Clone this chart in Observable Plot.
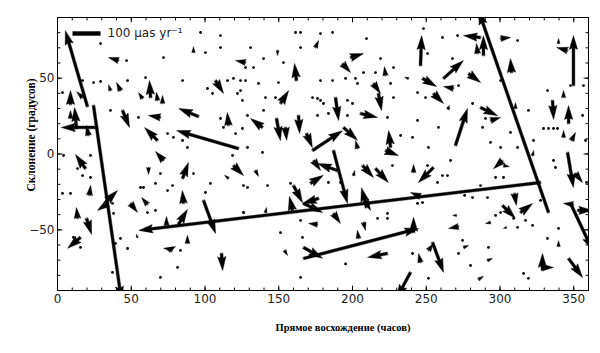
<!DOCTYPE html>
<html><head><meta charset="utf-8">
<script src="https://cdn.jsdelivr.net/npm/d3@7"></script>
<script src="https://cdn.jsdelivr.net/npm/@observablehq/plot@0.6"></script>
<style>body{margin:0;background:#fff} svg{display:block}</style>
</head><body><div id="chart"></div>
<script>
// Proper-motion vectors: position (RA, Dec in degrees) and proper motion (µas/yr)
const ra = [20.3,24.4,27.1,122.7,327.5,332.9,347.8,166.8,269.8,349.8,246.1,261.7,187.1,239.3,345.8,352.6,
63.1,8.8,12.9,21.0,44.1,67.8,69.8,95.6,41.4,42.7,17.0,57.6,71.2,92.2,8.8,67.8,35.9,
127.5,162.0,107.1,151.2,193.2,198.7,222.4,214.2,217.6,188.5,205.4,225.8,139.0,115.9,148.5,154.6,163.4,168.8,172.9,193.9,203.4,174.9,149.2,
286.8,284.8,288.8,300.4,345.8,339.7,307.8,247.5,268.5,278.7,254.9,286.8,293.6,310.5,335.6,346.5,348.5,343.1,343.1,238.0,264.4,
19.0,21.7,13.6,19.7,32.5,33.9,15.6,49.5,61.7,61.0,71.9,84.8,85.4,82.0,73.9,88.1,78.0,75.3,54.2,
119.3,115.9,134.2,99.0,160.0,159.3,177.0,166.8,171.5,173.6,189.8,206.8,215.6,209.5,208.8,222.4,200.7,176.3,187.1,207.5,204.1,166.8,153.9,223.7,111.2,141.0,126.1,
241.4,254.9,301.7,302.4,309.8,301.7,313.9,349.8,351.2,241.4,271.9,270.5,293.6,304.4,339.7,254.3,251.5,246.1,275.3,291.5,285.4,328.8,329.5,346.5,322.1,246.1];
const dec = [31.3,32.0,17.5,3.6,-18.8,-38.6,-32.6,-68.9,5.6,45.1,58.3,49.8,2.3,-78.1,1.0,-37.2,
37.2,32.6,16.8,12.2,28.7,8.9,24.1,24.7,61.6,41.8,37.2,36.6,33.3,66.9,23.4,35.3,41.8,
60.3,48.4,48.4,33.3,59.6,63.6,51.7,46.5,39.9,37.2,26.7,4.3,17.5,18.8,23.4,17.5,25.4,13.5,2.3,17.5,3.6,70.2,68.2,
76.8,66.2,64.9,76.1,68.2,72.8,53.7,49.8,43.2,53.0,39.9,30.6,22.1,30.0,35.3,20.1,8.9,10.9,37.2,49.8,30.0,
-9.6,-27.3,-42.5,-42.5,-32.0,-32.6,-55.0,-32.6,-8.9,-33.3,-4.3,-16.1,-32.6,-46.5,-47.1,-59.0,-62.9,-63.6,-55.0,
-7.6,-16.1,-10.9,-30.6,-20.8,-37.2,-29.3,-32.6,-19.4,-4.3,-10.9,-7.6,-9.6,-35.3,-30.6,2.3,-14.2,-46.5,-39.2,-45.1,-55.7,-61.6,-63.6,-65.6,-65.6,-38.6,-38.6,
-12.2,-8.9,-4.3,-7.6,-26.0,-33.9,-38.6,-33.3,-12.9,-51.7,-47.8,-40.5,-45.1,-48.4,-61.0,-58.3,-63.6,-71.5,-61.6,-70.2,-82.7,-76.8,-74.8,-68.9,-1.0,-28.0];
const pmRA = [-79,100,-129,-221,-1435,-250,79,411,43,0,4,71,50,-50,21,54,
-4,0,-7,-7,25,-46,-43,-71,-36,-14,-21,-14,0,0,0,-4,-7,
-36,-7,29,29,29,46,-4,25,11,11,61,-7,-43,-4,14,4,4,21,107,50,-7,11,0,
-61,-4,0,36,-39,0,-4,50,-36,43,36,61,36,0,4,0,14,0,0,-14,7,
-36,4,-4,18,43,-36,-46,25,0,-21,-29,21,-4,32,0,0,-32,25,-4,
36,-14,11,43,32,-11,-57,68,46,25,-71,39,46,-18,18,46,4,-32,25,7,-4,68,11,-71,4,4,4,
0,-54,-32,21,7,46,43,-36,25,0,-36,-14,-18,-11,0,39,18,-7,18,18,18,0,36,50,4,-36];
const pmDec = [271,-696,0,64,-171,721,-168,107,132,179,107,64,-189,-93,-125,0,
61,50,75,36,-61,46,7,29,11,29,21,21,29,21,29,29,21,
7,61,-46,46,-32,14,32,-36,-61,-82,-14,61,32,46,-79,-46,-64,-50,71,-46,29,25,-18,
7,36,71,4,11,18,50,-29,7,-32,-36,-29,11,21,-68,64,29,25,25,4,11,
50,36,39,-57,43,-25,-39,-32,-25,25,32,57,46,54,32,29,4,14,11,
-36,11,-21,-118,-61,50,-18,-32,29,-36,25,-43,-50,71,-36,-18,18,4,-36,-29,29,-39,-18,-14,-61,18,7,
29,-54,-29,-4,-43,-46,32,4,-32,54,-7,0,-4,-4,21,-107,25,32,7,7,11,61,0,-68,18,14];

// Stars with negligible proper motion (drawn as dots)
const dotRA = [29.2,46.8,71.9,17.0,24.4,29.2,47.5,59.7,84.8,3.4,35.9,54.9,74.6,78.6,84.8,88.1,
161.4,164.8,178.3,186.5,209.5,110.5,110.5,100.3,130.9,164.8,127.5,132.9,139.7,153.2,149.8,136.3,101.7,105.1,115.3,119.3,124.1,127.5,124.1,122.0,125.4,141.0,147.8,178.3,186.5,195.3,202.0,203.4,215.6,207.5,219.0,227.8,225.8,227.8,172.9,176.3,178.3,180.3,196.6,200.0,183.7,196.6,176.3,139.7,128.8,110.5,112.5,125.4,120.7,128.8,97.0,223.7,
248.1,261.0,271.2,311.9,347.8,356.6,332.2,250.9,267.8,249.5,244.1,271.9,265.1,281.4,300.4,288.2,293.6,300.4,307.1,319.3,329.5,332.9,336.3,339.0,356.0,358.0,232.6,244.1,240.7,258.3,251.5,311.9,322.7,290.2,
4.1,22.4,17.0,22.4,13.6,3.4,8.8,10.8,15.6,39.3,47.5,42.7,37.3,56.3,58.3,69.8,66.4,61.0,66.4,78.0,74.6,92.2,83.4,69.8,81.4,37.3,38.0,
118.7,139.0,126.1,128.8,142.4,158.0,103.7,100.3,183.7,191.9,227.1,223.7,223.7,217.0,151.2,166.1,195.3,164.8,164.8,
250.9,261.0,264.4,257.6,266.5,297.0,302.4,286.8,281.4,291.5,276.0,336.3,337.6,300.4,297.0,309.2,317.3,322.1,311.9,327.5,244.1,247.5,332.2,339.7,240.7,274.6,271.9,280.0,292.2,316.0,319.3,251.5,358.7];
const dotDec = [72.8,61.6,63.6,48.4,47.1,47.8,48.4,50.4,48.4,40.5,28.7,24.1,13.5,10.9,8.9,4.3,
80.1,80.1,79.4,80.1,76.1,78.1,70.2,66.9,70.2,70.2,57.0,57.0,62.9,60.3,47.1,46.5,43.2,39.9,48.4,49.8,48.4,48.4,41.8,39.9,35.3,37.2,37.2,48.4,48.4,49.8,49.8,46.5,53.7,53.7,62.9,57.0,46.5,37.2,37.2,36.6,35.3,33.3,35.3,33.3,26.7,25.4,25.4,28.7,25.4,23.4,17.5,16.8,13.5,4.3,80.1,24.1,
82.7,76.8,78.1,74.8,45.1,45.1,41.8,66.2,62.9,37.2,40.5,45.1,30.0,33.3,48.4,17.5,7.6,4.3,14.2,28.7,16.8,16.8,16.8,16.8,25.4,8.9,12.2,22.1,10.9,17.5,4.3,4.3,8.9,23.4,
-1.0,-1.0,-14.2,-15.5,-9.6,-26.0,-26.0,-55.0,-61.6,-59.0,-62.3,-55.7,-78.1,-22.1,-22.1,-12.9,-37.2,-38.6,-19.4,-20.8,-24.1,-12.9,-63.6,-81.4,-74.8,-32.6,-39.2,
-1.0,1.0,-20.8,-22.1,-20.8,-19.4,-19.4,-25.4,-18.8,-18.8,-7.6,-39.2,-42.5,-42.5,-51.9,-55.0,-72.5,-81.4,-43.8,
-7.6,-14.2,-14.2,-18.8,-4.3,-15.5,-15.5,-20.8,-28.7,-28.7,-27.3,-4.3,-8.9,-38.6,-40.5,-42.5,-43.8,-47.1,-48.4,-30.6,-32.6,-32.0,-55.7,-49.1,-65.6,-57.0,-65.6,-73.5,-61.6,-78.8,-82.0,-82.0,-18.8];

const xTicks = [0,50,100,150,200,250,300,350];
const yTicks = [-50,0,50];
const xMinor = [0,10,20,30,40,50,60,70,80,90,100,110,120,130,140,150,160,170,180,190,200,210,220,230,240,250,260,270,280,290,300,310,320,330,340,350,360];
const yMinor = [-90,-80,-70,-60,-50,-40,-30,-20,-10,0,10,20,30,40,50,60,70,80,90];
const keyValue = [100];
const keyLabel = "100 μas yr⁻¹";
const xLabel = "Прямое восхождение (часов)";
const yLabel = "Склонение (градусов)";

const arrows = ra.map((r, i) => ({ra: r, dec: dec[i], pmra: pmRA[i], pmdec: pmDec[i]}));
const dots = dotRA.map((r, i) => ({ra: r, dec: dotDec[i]}));

// matplotlib-quiver-like filled arrow shape
const W = 2.8, HW = 3 * W, HL = 5 * W, HAL = 4.5 * W;
const quiver = {
  draw(ctx, l) {
    if (l < W) { ctx.moveTo(W / 2, 0); ctx.arc(0, 0, W / 2, 0, 2 * Math.PI); ctx.closePath(); return; }
    const s = l < HL ? l / HL : 1;
    const L = l < HL ? HL : l;
    const pts = [[0, -W/2], [L - HAL, -W/2], [L - HL, -HW/2], [L, 0], [L - HL, HW/2], [L - HAL, W/2], [0, W/2]];
    pts.forEach(([a, p], k) => { const x = p * s, y = -a * s; k ? ctx.lineTo(x, y) : ctx.moveTo(x, y); });
    ctx.closePath();
  }
};
const bar = {
  draw(ctx, l) { const h = 2.2; ctx.moveTo(-h, 0); ctx.lineTo(-h, -l); ctx.lineTo(h, -l); ctx.lineTo(h, 0); ctx.closePath(); }
};
const line = { draw(ctx, l) { ctx.moveTo(0, 0); ctx.lineTo(0, -l); } };

const tickStyle = {anchor: "start", shape: line, stroke: "black", strokeWidth: 1};

const plot = Plot.plot({
  width: 600, height: 353,
  marginLeft: 57, marginRight: 12, marginTop: 17, marginBottom: 63,
  style: {fontFamily: "DejaVu Sans", fontSize: "12px", color: "#222", background: "#fff"},
  x: {domain: [0, 360]},
  y: {domain: [-90, 90]},
  length: {type: "linear", domain: [0, 100], range: [0, 28]},
  marks: [
    Plot.dot(dots, {x: "ra", y: "dec", r: 1.4, fill: "black", stroke: "none"}),
    Plot.vector(arrows, {
      x: "ra", y: "dec",
      length: d => Math.hypot(d.pmra, d.pmdec),
      rotate: d => Math.atan2(d.pmra, d.pmdec) * 180 / Math.PI,
      anchor: "start", shape: quiver, fill: "black", stroke: "black", strokeWidth: 0.4, clip: true
    }),
    Plot.frame({stroke: "black", strokeWidth: 1}),
    Plot.axisX({ticks: xTicks, tickSize: 0, tickPadding: 4, label: null, fontSize: 12, fill: "#222"}),
    Plot.axisY({ticks: yTicks, tickSize: 0, tickPadding: 3, label: null, fontSize: 12, fill: "#222"}),
    // ticks (inward, all four sides)
    Plot.vector(xMinor, {x: d => d, frameAnchor: "bottom", rotate: 0, length: 2.5, ...tickStyle}),
    Plot.vector(xMinor, {x: d => d, frameAnchor: "top", rotate: 180, length: 2.5, ...tickStyle}),
    Plot.vector(xTicks, {x: d => d, frameAnchor: "bottom", rotate: 0, length: 4.5, ...tickStyle}),
    Plot.vector(xTicks, {x: d => d, frameAnchor: "top", rotate: 180, length: 4.5, ...tickStyle}),
    Plot.vector(yMinor, {y: d => d, frameAnchor: "left", rotate: 90, length: 2.5, ...tickStyle}),
    Plot.vector(yMinor, {y: d => d, frameAnchor: "right", rotate: -90, length: 2.5, ...tickStyle}),
    Plot.vector(yTicks, {y: d => d, frameAnchor: "left", rotate: 90, length: 4.5, ...tickStyle}),
    Plot.vector(yTicks, {y: d => d, frameAnchor: "right", rotate: -90, length: 4.5, ...tickStyle}),
    // key
    Plot.vector(keyValue, {length: d => d, rotate: 90, anchor: "start", frameAnchor: "top-left", dx: 15, dy: 16, shape: bar, fill: "black", stroke: "none"}),
    Plot.text([keyLabel], {text: d => d, frameAnchor: "top-left", dx: 50, dy: 16, textAnchor: "start", lineAnchor: "middle", fontSize: 12, fill: "#222"}),
    // axis titles
    Plot.text([xLabel], {text: d => d, frameAnchor: "bottom", dx: 20, dy: 37, textAnchor: "middle", lineAnchor: "middle", fontFamily: "Liberation Serif", fontWeight: "bold", fontSize: 10.5, fill: "black"}),
    Plot.text([yLabel], {text: d => d, frameAnchor: "left", dx: -26, dy: -19, rotate: -90, textAnchor: "middle", lineAnchor: "middle", fontFamily: "Liberation Serif", fontWeight: "bold", fontSize: 11.5, fill: "black"})
  ]
});
document.getElementById("chart").append(plot);
</script>
</body></html>
